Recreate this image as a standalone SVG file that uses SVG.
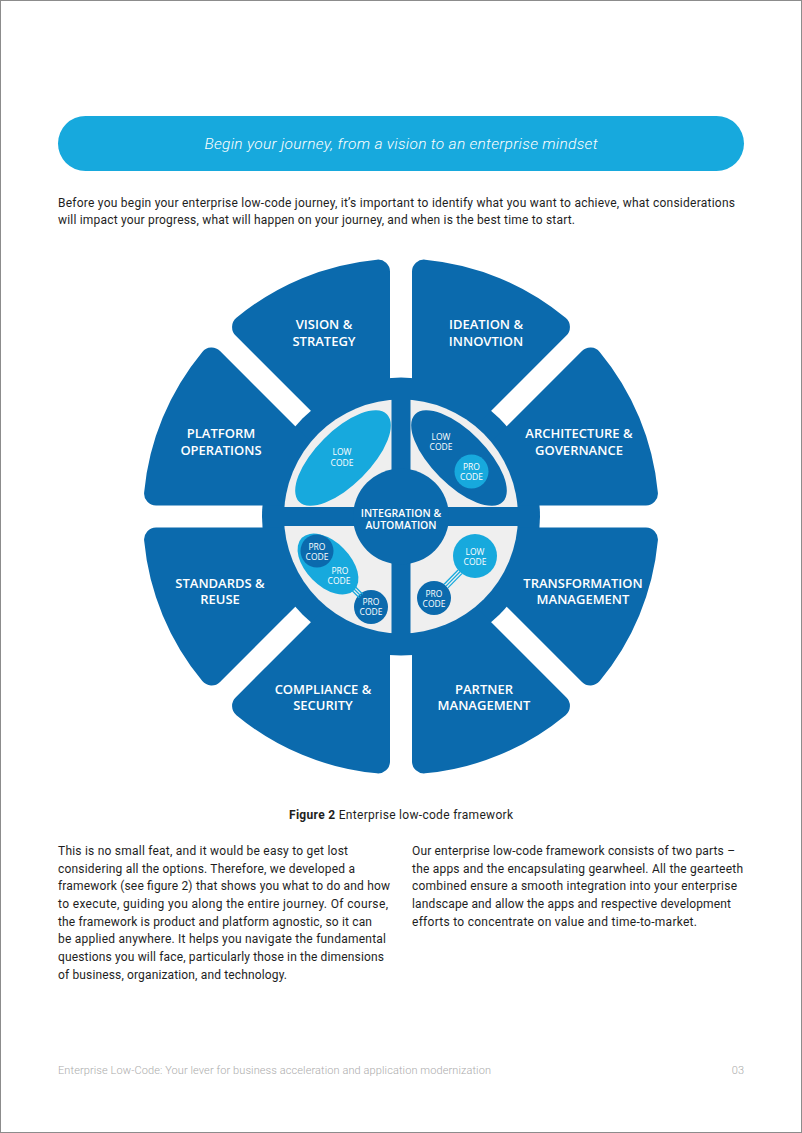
<svg xmlns="http://www.w3.org/2000/svg" xmlns:xlink="http://www.w3.org/1999/xlink" width="802" height="1133" viewBox="0 0 802 1133">
<style>
.dark{fill:#0B6AAD}
.light{fill:#17A9DD}
.grey{fill:#EFEFEF}
.lbl{font-family:"Open Sans","Noto Sans",sans-serif;font-weight:600;font-size:13px;fill:#FFFFFF;text-anchor:middle}
.mid{font-family:"Open Sans","Noto Sans",sans-serif;font-weight:600;font-size:10.5px;fill:#FFFFFF;text-anchor:middle}
.sm{font-family:"Open Sans","Noto Sans",sans-serif;font-weight:400;font-size:8.5px;fill:#FFFFFF;text-anchor:middle}
.body{font-family:Roboto,"Liberation Sans",sans-serif;font-size:12px;fill:#1E1E1E}
.foot{font-family:Roboto,"Liberation Sans",sans-serif;font-weight:300;font-size:11px;fill:#ABABAB}
.tri{stroke:#17A9DD;stroke-width:1.3;fill:none}
</style>
<defs>
<path id="tooth" d="M0 0 L100 11 L244.92 11 A12 12 0 0 1 256.87 24.12 A258 258 0 0 1 198.69 164.58 A12 12 0 0 1 180.96 165.40 L78.49 62.93 Z"/>
</defs>
<rect x="0.5" y="0.5" width="801" height="1132" fill="#FFFFFF" stroke="#8C8C8C"/>

<g id="banner">
<rect x="58" y="116" width="686" height="55" rx="27.5" fill="#17A9DD"/>
<text x="401" y="148.5" text-anchor="middle" font-family="Roboto,'Liberation Sans',sans-serif" font-style="italic" font-weight="300" font-size="15.5" fill="#FFFFFF" textLength="393">Begin your journey, from a vision to an enterprise mindset</text>
</g>

<g id="intro" class="body">
<text x="58" y="207" textLength="677">Before you begin your enterprise low-code journey, it’s important to identify what you want to achieve, what considerations</text>
<text x="58" y="224" textLength="517">will impact your progress, what will happen on your journey, and when is the best time to start.</text>
</g>

<g id="gear">
<circle class="dark" cx="401" cy="516.5" r="139"/>
<g transform="translate(401 516.5)">
<use xlink:href="#tooth" class="dark" transform="rotate(0)"/>
<use xlink:href="#tooth" class="dark" transform="rotate(45)"/>
<use xlink:href="#tooth" class="dark" transform="rotate(90)"/>
<use xlink:href="#tooth" class="dark" transform="rotate(135)"/>
<use xlink:href="#tooth" class="dark" transform="rotate(180)"/>
<use xlink:href="#tooth" class="dark" transform="rotate(225)"/>
<use xlink:href="#tooth" class="dark" transform="rotate(270)"/>
<use xlink:href="#tooth" class="dark" transform="rotate(315)"/>
</g>
<circle class="grey" cx="401" cy="516.5" r="117"/>
<rect class="dark" x="391.5" y="395" width="19" height="243"/>
<rect class="dark" x="280" y="507" width="242" height="19"/>
</g>

<g id="vision-strategy"><text class="lbl" x="324" y="329">VISION &amp;</text><text class="lbl" x="324" y="346">STRATEGY</text></g>
<g id="ideation-innovtion"><text class="lbl" x="486" y="329">IDEATION &amp;</text><text class="lbl" x="486" y="346">INNOVTION</text></g>
<g id="platform-operations"><text class="lbl" x="221" y="438">PLATFORM</text><text class="lbl" x="221" y="455">OPERATIONS</text></g>
<g id="architecture-governance"><text class="lbl" x="579" y="438">ARCHITECTURE &amp;</text><text class="lbl" x="579" y="455">GOVERNANCE</text></g>
<g id="standards-reuse"><text class="lbl" x="220" y="588">STANDARDS &amp;</text><text class="lbl" x="220" y="604">REUSE</text></g>
<g id="transformation-management"><text class="lbl" x="583" y="588">TRANSFORMATION</text><text class="lbl" x="583" y="604">MANAGEMENT</text></g>
<g id="compliance-security"><text class="lbl" x="323" y="694">COMPLIANCE &amp;</text><text class="lbl" x="323" y="710">SECURITY</text></g>
<g id="partner-management"><text class="lbl" x="484" y="694">PARTNER</text><text class="lbl" x="484" y="710">MANAGEMENT</text></g>

<g id="integration-automation">
<circle class="dark" cx="401" cy="516.5" r="48"/>
<text class="mid" x="401" y="516.5">INTEGRATION &amp;</text>
<text class="mid" x="401" y="528.5">AUTOMATION</text>
</g>

<g id="app-low-code">
<ellipse class="light" cx="343" cy="458" rx="62" ry="27" transform="rotate(-45 343 458)"/>
<text class="sm" x="342" y="455">LOW</text>
<text class="sm" x="342" y="466">CODE</text>
</g>

<g id="app-low-pro">
<ellipse class="dark" cx="459" cy="458" rx="62" ry="27" transform="rotate(45 459 458)"/>
<text class="sm" x="441" y="440">LOW</text>
<text class="sm" x="441" y="450">CODE</text>
<circle class="light" cx="471.5" cy="471.5" r="17"/>
<text class="sm" x="471.5" y="470">PRO</text>
<text class="sm" x="471.5" y="480">CODE</text>
</g>

<g id="app-pro-pro">
<ellipse class="light" cx="328" cy="564" rx="37" ry="22" transform="rotate(45 328 564)"/>
<circle class="dark" cx="317" cy="551" r="16.5"/>
<text class="sm" x="317" y="549.5">PRO</text>
<text class="sm" x="317" y="559.5">CODE</text>
<text class="sm" x="340" y="573.5">PRO</text>
<text class="sm" x="339" y="584">CODE</text>
</g>
<g id="app-pro-single">
<circle class="dark" cx="371" cy="607" r="17"/>
<text class="sm" x="371" y="605">PRO</text>
<text class="sm" x="371" y="615">CODE</text>
</g>

<g id="app-low-single">
<circle class="light" cx="475" cy="556" r="22"/>
<text class="sm" x="475" y="554.5">LOW</text>
<text class="sm" x="475" y="564.5">CODE</text>
</g>
<g id="app-pro-br">
<circle class="dark" cx="434" cy="598" r="17"/>
<text class="sm" x="434" y="596.5">PRO</text>
<text class="sm" x="434" y="606.5">CODE</text>
</g>

<g id="connectors">
<line class="tri" x1="352.2" y1="590.8" x2="359.2" y2="597.8"/>
<line class="tri" x1="354" y1="589" x2="361" y2="596"/>
<line class="tri" x1="355.8" y1="587.2" x2="362.8" y2="594.2"/>
<line class="tri" x1="458.1" y1="570.0" x2="444.1" y2="584.3"/>
<line class="tri" x1="460" y1="571.8" x2="446" y2="586.1"/>
<line class="tri" x1="461.9" y1="573.6" x2="447.9" y2="587.9"/>
</g>

<g id="caption">
<text x="401" y="819" text-anchor="middle" class="body" textLength="224"><tspan font-weight="700">Figure 2</tspan> Enterprise low-code framework</text>
</g>

<g id="left-column" class="body">
<text x="58" y="855" textLength="290">This is no small feat, and it would be easy to get lost</text>
<text x="58" y="872.7" textLength="297">considering all the options. Therefore, we developed a</text>
<text x="58" y="890.3" textLength="332">framework (see figure 2) that shows you what to do and how</text>
<text x="58" y="908" textLength="330">to execute, guiding you along the entire journey. Of course,</text>
<text x="58" y="925.6" textLength="314">the framework is product and platform agnostic, so it can</text>
<text x="58" y="943.2" textLength="328">be applied anywhere. It helps you navigate the fundamental</text>
<text x="58" y="960.8" textLength="326">questions you will face, particularly those in the dimensions</text>
<text x="58" y="978.5" textLength="229">of business, organization, and technology.</text>
</g>

<g id="right-column" class="body">
<text x="412" y="855" textLength="323">Our enterprise low-code framework consists of two parts –</text>
<text x="412" y="872.7" textLength="331">the apps and the encapsulating gearwheel. All the gearteeth</text>
<text x="412" y="890.3" textLength="325">combined ensure a smooth integration into your enterprise</text>
<text x="412" y="908" textLength="319">landscape and allow the apps and respective development</text>
<text x="412" y="925.6" textLength="285">efforts to concentrate on value and time-to-market.</text>
</g>

<g id="footer" class="foot">
<text x="58" y="1074" textLength="433">Enterprise Low-Code: Your lever for business acceleration and application modernization</text>
<text x="744" y="1074" text-anchor="end">03</text>
</g>
</svg>
